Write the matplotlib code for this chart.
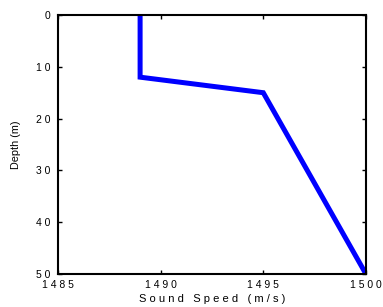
import matplotlib
matplotlib.use("Agg")
import matplotlib.pyplot as plt

plt.rcParams['font.family'] = ['Liberation Sans', 'DejaVu Sans']

sound_speed = [1489, 1489, 1495, 1500]
depth = [0, 12, 15, 50]
xticks = [1485, 1490, 1495, 1500]
yticks = [0, 10, 20, 30, 40, 50]

def spaced(s, sep=" "):
    return sep.join(list(s))

fig = plt.figure(figsize=(3.83, 3.07), dpi=100)
ax = fig.add_axes([0.1514, 0.1075, 0.804, 0.8436])
ax.plot(sound_speed, depth, color='#0000ff', linewidth=3.6, solid_capstyle='butt', solid_joinstyle='miter')
ax.set_xlim(1485, 1500)
ax.set_ylim(50, 0)
ax.set_xticks(xticks)
ax.set_xticklabels([spaced(str(v)) for v in xticks], fontsize=7.5)
ax.set_yticks(yticks)
ax.set_yticklabels([spaced(str(v)) for v in yticks], fontsize=7.5)
ax.tick_params(direction='in', length=3, width=1, top=True, right=True)
ax.tick_params(axis='x', pad=4)
ax.tick_params(axis='y', pad=5.5)
for s in ax.spines.values():
    s.set_linewidth(1.5)
ax.set_xlabel("S o u n d   S p e e d   ( m / s )", fontsize=8, labelpad=3.5)
ax.set_ylabel("Depth (m)", fontsize=7.8, labelpad=11)
fig.savefig("out.png", dpi=100)
